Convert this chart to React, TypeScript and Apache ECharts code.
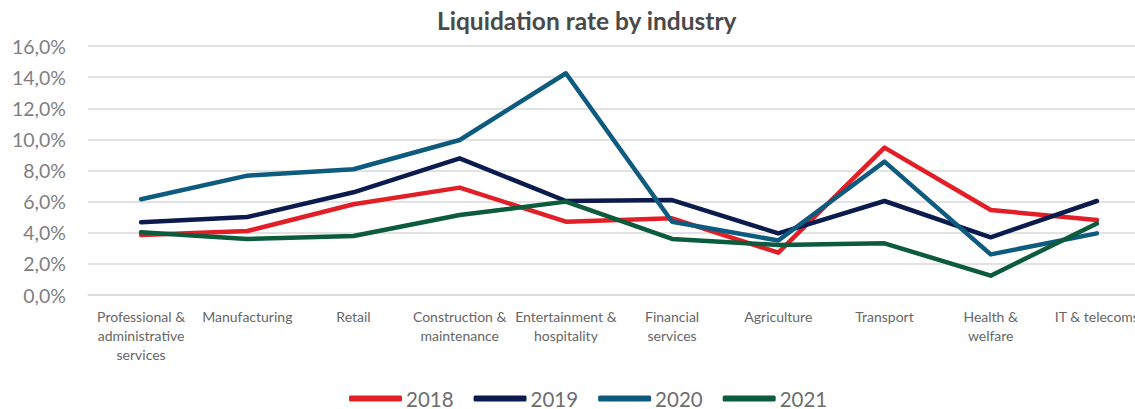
import React, { useEffect, useRef } from "react";
import * as echarts from "echarts";

const categories = [
  "Professional &\nadministrative\nservices",
  "Manufacturing",
  "Retail",
  "Construction &\nmaintenance",
  "Entertainment &\nhospitality",
  "Financial\nservices",
  "Agriculture",
  "Transport",
  "Health &\nwelfare",
  "IT & telecoms",
];

const years = ["2018", "2019", "2020", "2021"];
const values2018 = [3.86, 4.11, 5.83, 6.9, 4.71, 4.93, 2.72, 9.47, 5.46, 4.82];
const values2019 = [4.67, 5.01, 6.6, 8.78, 6.04, 6.1, 3.96, 6.04, 3.71, 6.04];
const values2020 = [6.15, 7.67, 8.08, 9.96, 14.25, 4.71, 3.5, 8.57, 2.61, 3.96];
const values2021 = [4.03, 3.6, 3.79, 5.14, 6.0, 3.6, 3.21, 3.32, 1.24, 4.6];
const yTicks = { min: 0, max: 16, interval: 2 };

const colors = ["#E21F26", "#0B1B4D", "#0D5B7F", "#0B5B3C"];

export default function App() {
  const ref = useRef<HTMLDivElement>(null);
  useEffect(() => {
    if (!ref.current) return;
    const chart = echarts.init(ref.current, undefined, { renderer: "svg" });
    const seriesData = [values2018, values2019, values2020, values2021];
    chart.setOption({
      animation: false,
      color: colors,
      title: {
        text: "Liquidation rate by industry",
        left: 432,
        top: 3,
        textStyle: {
          fontFamily: "Lato",
          fontWeight: "bold",
          fontSize: 24.5,
          color: "#4A4A4A",
        },
      },
      grid: {
        left: 88,
        width: 1062,
        top: 46,
        bottom: 114,
        containLabel: false,
        outerBoundsMode: "none",
      },
      legend: {
        data: years,
        top: 388,
        left: 349,
        padding: 0,
        icon: "roundRect",
        itemWidth: 53,
        itemHeight: 6,
        itemGap: 20,
        textStyle: { fontFamily: "Lato", fontSize: 20.5, color: "#6E6E6E", padding: [0, 0, 0, -1] },
      },
      xAxis: {
        type: "category",
        data: categories,
        boundaryGap: true,
        axisLine: { lineStyle: { color: "#D9D9D9", width: 1.5 } },
        axisTick: { show: false },
        axisLabel: {
          interval: 0,
          margin: 12,
          fontFamily: "Lato",
          fontSize: 14,
          lineHeight: 19,
          color: "#666666",
        },
      },
      yAxis: {
        type: "value",
        min: yTicks.min,
        max: yTicks.max,
        interval: yTicks.interval,
        axisLine: { show: false },
        axisTick: { show: false },
        splitLine: { lineStyle: { color: "#D9D9D9", width: 1.5 } },
        axisLabel: {
          margin: 22,
          fontFamily: "Lato",
          fontSize: 19.5,
          color: "#7F7F7F",
          formatter: (v: number) => v.toFixed(1).replace(".", ",") + "%",
        },
      },
      series: years.map((y, i) => ({
        name: y,
        type: "line",
        data: seriesData[i],
        symbol: "none",
        lineStyle: { width: 4.5, color: colors[i], cap: "round", join: "round" },
        itemStyle: { color: colors[i] },
      })),
    });
    return () => chart.dispose();
  }, []);
  return (
    <div
      ref={ref}
      style={{ position: "fixed", left: 0, top: 0, width: 1135, height: 409, background: "#fff" }}
    />
  );
}
